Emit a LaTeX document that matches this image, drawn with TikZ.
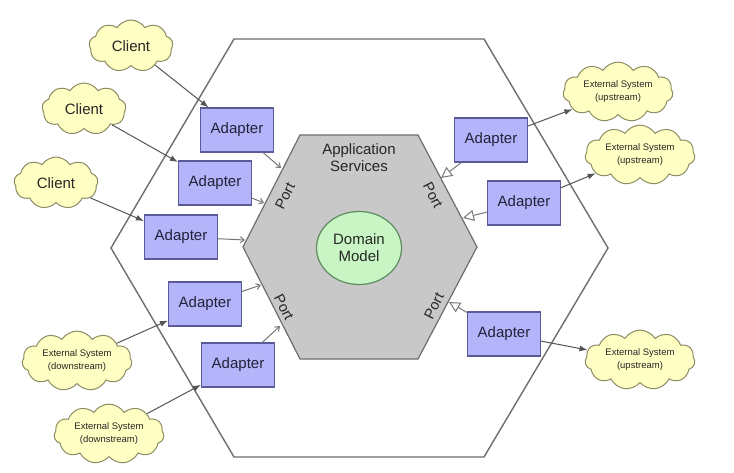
\documentclass[tikz,border=0pt]{standalone}
\usepackage{fontspec}
\setmainfont{Liberation Sans}
\usetikzlibrary{shapes.symbols,shapes.geometric,arrows.meta}
\definecolor{cloudfill}{HTML}{FFFFC4}
\definecolor{clouddraw}{HTML}{8C8C64}
\definecolor{adfill}{HTML}{B4B4FA}
\definecolor{addraw}{HTML}{5A5A96}
\definecolor{hexfill}{HTML}{C8C8C8}
\definecolor{hexdraw}{HTML}{6E6E6E}
\definecolor{domfill}{HTML}{C8F5C3}
\definecolor{domdraw}{HTML}{5F8C5F}
\definecolor{linec}{HTML}{555555}
\definecolor{txt}{HTML}{22223A}
\begin{document}
\begin{tikzpicture}[x=1pt,y=-1pt,
  adapter/.style={draw=addraw, fill=adfill, line width=1.2pt, minimum width=73pt, minimum height=44pt, inner sep=0pt, font=\fontsize{15}{17}\selectfont, text=txt},
  client/.style={cloud, cloud puffs=9, cloud puff arc=115, aspect=1.6, draw=clouddraw, fill=cloudfill, line width=1pt, minimum width=84pt, minimum height=52pt, inner sep=0pt, font=\fontsize{15}{17}\selectfont, text=black!85},
  ext/.style={client, cloud puffs=11, aspect=2.1, minimum width=110pt, minimum height=53pt, font=\fontsize{9.5}{13}\selectfont, align=center},
  portlabel/.style={font=\fontsize{14.5}{17}\selectfont, text=black!85, inner sep=1pt},
  fwd/.style={draw=linec, line width=1pt, -{Latex[length=8pt,width=6pt]}},
  toport/.style={draw=linec!80, line width=1pt, -{Straight Barb[length=4pt,width=6pt]}},
  impl/.style={draw=linec!80, line width=1pt, -{Triangle[open, fill=white, length=11pt, width=11pt]}}
]
\useasboundingbox[fill=white] (0,0) rectangle (734,473);

% outer hexagon
\draw[draw=hexdraw, line width=1.4pt] (234,39) -- (484,39) -- (608,248) -- (484,457) -- (234,457) -- (111,248) -- cycle;
% inner hexagon
\draw[draw=hexdraw, fill=hexfill, line width=1.2pt] (300,135) -- (418,135) -- (477,247) -- (418,359) -- (300,359) -- (243,247) -- cycle;

\node[font=\fontsize{15}{17}\selectfont, align=center, text=black!85] (appsrv) at (359,158) {Application\\Services};
\node[ellipse, draw=domdraw, fill=domfill, line width=1.2pt, minimum width=85pt, minimum height=73pt, inner sep=0pt, font=\fontsize{15}{17}\selectfont, align=center, text=black!85] (domain) at (359,248) {Domain\\Model};

\node[portlabel, rotate=63] (port1) at (285,196) {Port};
\node[portlabel, rotate=-63] (port2) at (433,195) {Port};
\node[portlabel, rotate=-63] (port3) at (284,307) {Port};
\node[portlabel, rotate=63] (port4) at (434,306) {Port};

% targets on inner hexagon edges
\coordinate (t1) at (281,168);
\coordinate (t2) at (264,203);
\coordinate (t3) at (245,240);
\coordinate (t4) at (261,285);
\coordinate (t5) at (280,326);
\coordinate (t6) at (441,178);
\coordinate (t7) at (463,218);
\coordinate (t8) at (449,302);

% adapters
\node[adapter] (a1) at (237,130) {Adapter};
\node[adapter] (a2) at (215,183) {Adapter};
\node[adapter] (a3) at (181,237) {Adapter};
\node[adapter] (a4) at (205,304) {Adapter};
\node[adapter] (a5) at (238,365) {Adapter};
\node[adapter] (r1) at (491,140) {Adapter};
\node[adapter] (r2) at (524,203) {Adapter};
\node[adapter] (r3) at (504,334) {Adapter};

% clients
\node[client] (c1) at (131,46) {Client};
\node[client] (c2) at (84,109) {Client};
\node[client] (c3) at (56,183) {Client};

% external systems
\node[ext] (u1) at (618,92) {External System\\(upstream)};
\node[ext] (u2) at (640,155) {External System\\(upstream)};
\node[ext] (u3) at (640,360) {External System\\(upstream)};
\node[ext] (d1) at (77,361) {External System\\(downstream)};
\node[ext] (d2) at (109,434) {External System\\(downstream)};

% connectors
\draw[fwd] (c1) -- (a1);
\draw[fwd] (c2) -- (a2);
\draw[fwd] (c3) -- (a3);
\draw[fwd] (d1) -- (a4);
\draw[fwd] (d2) -- (a5);
\draw[fwd] (r1) -- (u1);
\draw[fwd] (r2) -- (u2);
\draw[fwd] (r3) -- (u3);

\draw[toport] (a1) -- (t1);
\draw[toport] (a2) -- (t2);
\draw[toport] (a3) -- (t3);
\draw[toport] (a4) -- (t4);
\draw[toport] (a5) -- (t5);

\draw[impl] (r1) -- (t6);
\draw[impl] (r2) -- (t7);
\draw[impl] (r3) -- (t8);
\end{tikzpicture}
\end{document}
